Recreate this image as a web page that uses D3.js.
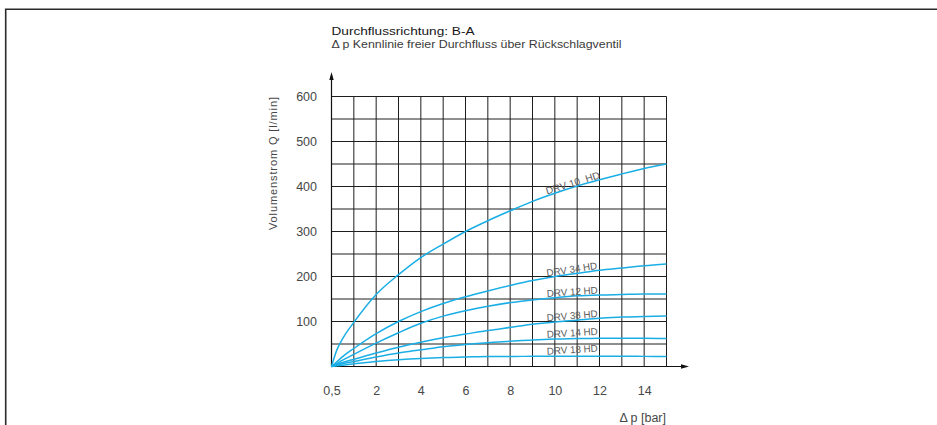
<!DOCTYPE html>
<html>
<head>
<meta charset="utf-8">
<script src="https://cdn.jsdelivr.net/npm/d3@7"></script>
<style>
  html, body { margin: 0; padding: 0; background: #fff; }
  svg { display: block; }
  text { font-family: "Liberation Sans", Arial, sans-serif; }
</style>
</head>
<body>
<svg id="chart" width="937" height="425"></svg>
<script>
// ---- data ----
const title = "Durchflussrichtung: B-A";
const subtitle = "\u0394 p Kennlinie freier Durchfluss \u00fcber R\u00fcckschlagventil";
const xLabel = "\u0394 p [bar]";
const yLabel = "Volumenstrom Q [l/min]";

const xTickValues = [0, 2, 4, 6, 8, 10, 12, 14];
const xTickLabels = ["0,5", "2", "4", "6", "8", "10", "12", "14"];
const yTickValues = [100, 200, 300, 400, 500, 600];
const yTickLabels = ["100", "200", "300", "400", "500", "600"];

const dp = [0, 0.25, 0.5, 1, 2, 3, 4, 5, 6, 7, 8, 9, 10, 11, 12, 13, 14, 15];
const drv10 = [0, 38, 62, 98, 160, 204, 242, 272, 300, 324, 346, 367, 385, 401, 415, 428, 440, 450];
const drv34 = [0, 11, 22, 40, 73, 100, 122, 140, 155, 168, 180, 191, 200, 207, 214, 219, 224, 228];
const drv12 = [0, 7, 14, 27, 52, 75, 96, 112, 124, 134, 142, 148, 153, 157, 159, 160, 161, 161];
const drv38 = [0, 5, 9, 16, 30, 43, 54, 64, 72, 80, 87, 94, 99, 103, 107, 110, 111, 112];
const drv14 = [0, 3, 6, 11, 21, 30, 37, 44, 49, 53, 56, 59, 61, 62, 63, 63, 63, 62];
const drv18 = [0, 1.5, 3, 6, 11, 15, 18, 20, 21, 22, 22, 23, 23, 23, 23, 23, 22.5, 22];

const seriesNames = ["DRV 10\u00a0 HD", "DRV 34 HD", "DRV 12 HD", "DRV 38 HD", "DRV 14 HD", "DRV 18 HD"];
const seriesValues = [drv10, drv34, drv12, drv38, drv14, drv18];
const labelAtBar = 9.65;

// ---- layout ----
const svg = d3.select("#chart");
const x = d3.scaleLinear().domain([0, 15]).range([331.5, 666.5]);
const y = d3.scaleLinear().domain([0, 600]).range([366.5, 96.5]);

// frame
svg.append("path")
  .attr("d", "M5.7,425 V9.3 H937")
  .attr("fill", "none").attr("stroke", "#2a2a2a").attr("stroke-width", 1.6);

// grid
const grid = svg.append("g").attr("stroke", "#1e1e1e").attr("stroke-width", 1);
grid.selectAll("line.v").data(d3.range(1, 16)).join("line")
  .attr("x1", d => x(d)).attr("x2", d => x(d))
  .attr("y1", y(0)).attr("y2", y(600));
grid.selectAll("line.h").data(d3.range(50, 601, 50)).join("line")
  .attr("x1", x(0)).attr("x2", x(15))
  .attr("y1", d => y(d)).attr("y2", d => y(d));

// axes with arrows
const ax = svg.append("g").attr("stroke", "#111").attr("stroke-width", 1.2);
ax.append("line").attr("x1", x(0)).attr("x2", x(0)).attr("y1", y(0)).attr("y2", 76);
ax.append("line").attr("x1", x(0)).attr("x2", 684).attr("y1", y(0)).attr("y2", y(0));
svg.append("path").attr("fill", "#111")
  .attr("d", `M${x(0)},72 L${x(0) - 2.2},80 L${x(0) + 2.2},80 Z`);
svg.append("path").attr("fill", "#111")
  .attr("d", `M689,${y(0)} L681,${y(0) - 2.2} L681,${y(0) + 2.2} Z`);

// tick labels via axes
const xAxis = d3.axisBottom(x).tickValues(xTickValues)
  .tickFormat((d, i) => xTickLabels[i]).tickSize(0).tickPadding(0);
const gx = svg.append("g").attr("transform", `translate(0,${y(0)})`).call(xAxis);
gx.select(".domain").remove();
gx.selectAll("text").attr("dy", null).attr("y", 28.5)
  .attr("font-size", 12.5).attr("fill", "#474747")
  .attr("font-family", "Liberation Sans, Arial, sans-serif");

const yAxis = d3.axisLeft(y).tickValues(yTickValues)
  .tickFormat((d, i) => yTickLabels[i]).tickSize(0).tickPadding(0);
const gy = svg.append("g").attr("transform", `translate(317,0)`).call(yAxis);
gy.select(".domain").remove();
gy.selectAll("text").attr("x", 0).attr("dy", "0.35em")
  .attr("font-size", 12.5).attr("fill", "#474747")
  .attr("font-family", "Liberation Sans, Arial, sans-serif");

// axis titles
svg.append("text").text(xLabel)
  .attr("x", 666).attr("y", 421.5).attr("text-anchor", "end")
  .attr("font-size", 12.5).attr("fill", "#474747");
svg.append("text").text(yLabel)
  .attr("transform", `translate(277,${y(600) + 0.5}) rotate(-90)`)
  .attr("text-anchor", "end")
  .attr("font-size", 11).attr("fill", "#474747")
  .attr("textLength", 133).attr("lengthAdjust", "spacing");

// titles
svg.append("text").text(title)
  .attr("x", 331.5).attr("y", 34.5)
  .attr("font-size", 11.5).attr("fill", "#161616").attr("font-weight", 500)
  .attr("textLength", 143).attr("lengthAdjust", "spacingAndGlyphs");
svg.append("text").text(subtitle)
  .attr("x", 331.5).attr("y", 47.5)
  .attr("font-size", 10.5).attr("fill", "#3a3a3a")
  .attr("textLength", 290).attr("lengthAdjust", "spacingAndGlyphs");

// curves
const line = d3.line()
  .x(d => x(d[0])).y(d => y(d[1]))
  .curve(d3.curveMonotoneX);
const curves = svg.append("g").attr("fill", "none")
  .attr("stroke", "#1aaee6").attr("stroke-width", 1.5);
seriesValues.forEach(vals => {
  curves.append("path").attr("d", line(dp.map((b, i) => [b, vals[i]])));
});

// curve labels
function valueAt(vals, b) {
  const i = d3.bisectRight(dp, b) - 1;
  const t = (b - dp[i]) / (dp[i + 1] - dp[i]);
  return vals[i] + t * (vals[i + 1] - vals[i]);
}
seriesValues.forEach((vals, k) => {
  const b0 = labelAtBar, b1 = labelAtBar + 2.4;
  const px0 = x(b0), py0 = y(valueAt(vals, b0));
  const px1 = x(b1), py1 = y(valueAt(vals, b1));
  let ang = Math.atan2(py1 - py0, px1 - px0) * 180 / Math.PI;
  if (k > 0) ang = Math.min(ang, -3.5);
  svg.append("text").text(seriesNames[k])
    .attr("transform", `translate(${px0},${py0 - 1.5}) rotate(${ang})`)
    .attr("font-size", 10).attr("fill", "#5a5a5a")
    .attr("textLength", k === 0 ? 56 : 51).attr("lengthAdjust", "spacingAndGlyphs");
});
</script>
</body>
</html>
